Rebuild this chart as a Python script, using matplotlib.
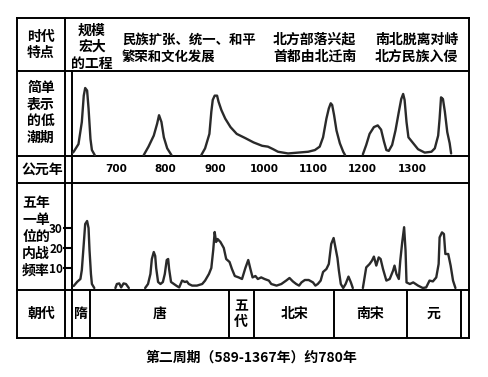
import matplotlib
matplotlib.use("Agg")
import matplotlib.pyplot as plt

plt.rcParams['font.family'] = ['Noto Sans CJK SC', 'DejaVu Sans']

# ---- data ----
# low-tide curve (arbitrary height 0-100), four separate strokes
low_years_1 = [580, 584, 594, 601, 605, 608, 612, 615, 619, 622, 628]
low_vals_1 = [3, 5, 14, 40, 71, 80, 77, 56, 20, 7, 1]
low_years_2 = [730, 740, 751, 758, 762, 767, 772, 779, 788]
low_vals_2 = [1, 11, 24, 38, 48, 40, 22, 9, 1]
low_years_3 = [850, 858, 867, 871, 874, 878, 883, 886, 892, 900, 911, 924, 942,
               959, 977, 989, 1000, 1010, 1031, 1052, 1073, 1087, 1097, 1104,
               1111, 1116, 1120, 1123, 1127, 1132, 1139, 1146, 1150]
low_vals_3 = [1, 9, 26, 52, 66, 71, 71, 64, 54, 44, 34, 26, 21,
              16, 12, 11, 8, 5, 3, 4, 5, 7, 11, 22,
              44, 56, 62, 60, 48, 30, 15, 5, 1]
low_years_4 = [1187, 1194, 1201, 1210, 1218, 1225, 1231, 1236, 1241, 1248, 1255,
               1262, 1267, 1271, 1274, 1278, 1282, 1292, 1302, 1316, 1330, 1337,
               1344, 1347, 1350, 1354, 1358, 1363, 1368, 1371]
low_vals_4 = [2, 13, 26, 34, 36, 31, 17, 7, 6, 13, 30,
              52, 67, 73, 66, 40, 22, 15, 8, 4, 5, 9,
              24, 44, 69, 67, 52, 28, 15, 3]

# civil war frequency per five-year unit
war_years_1 = [584, 591, 598, 601, 605, 608, 612, 615, 617, 620, 622, 627]
war_vals_1 = [1, 3, 4.5, 9, 22, 32, 33.5, 30, 19, 7, 2, 0]
war_years_2 = [671, 674, 679, 683, 688, 693, 699]
war_vals_2 = [0, 2, 2.3, 0.3, 2.3, 2, 0]
war_years_3 = [733, 739, 744, 747, 751, 754, 756, 760, 765, 770,
               774, 778, 781, 783, 787, 793, 799, 804, 810, 816,
               820, 824, 831, 841, 852, 858, 866, 871, 875, 878,
               881, 884, 890, 897, 902, 909, 914, 920, 928, 935,
               942, 948, 952, 957, 963, 968, 975, 982, 991, 996,
               1007, 1017, 1027, 1034, 1041, 1048, 1054, 1059, 1066, 1074,
               1083, 1088, 1093, 1099, 1104, 1111, 1116, 1121, 1126, 1130,
               1134, 1137, 1141, 1146, 1151, 1157, 1162, 1166]
war_vals_3 = [0, 2, 7, 14.5, 18, 16, 10, 3, 2, 3,
              7, 14, 14.5, 9.5, 3, 2, 1, 0.3, 3.7, 3,
              3.3, 2, 1.2, 1.2, 2, 3.7, 7, 10, 19, 28,
              23, 24.5, 23, 20, 14.5, 13, 9.5, 6, 5.3, 4.5,
              10, 14, 10, 5.3, 6, 4.5, 5.3, 4.5, 3.7, 2,
              1.2, 2, 3.7, 5, 3.3, 2, 1.2, 2.8, 4, 4,
              2.8, 1.2, 2, 3.7, 8, 9.5, 12, 22, 25, 20,
              15, 8.7, 2, 0, 2, 5.7, 2.8, 0]
war_years_4 = [1187, 1194, 1201, 1206, 1210, 1215, 1220, 1224, 1229, 1236,
               1243, 1250, 1253, 1257, 1262, 1265, 1269, 1273, 1276, 1278,
               1285, 1292, 1302, 1312, 1319, 1326, 1333, 1340, 1345, 1347,
               1352, 1356, 1359, 1365, 1370, 1375, 1380]
war_vals_4 = [0, 10.3, 12, 13.7, 15.7, 11.2, 15.3, 14.5, 9.5, 3.7,
              4.5, 8.7, 11.2, 7, 4.5, 13.7, 22.8, 30.4, 18.7, 2.8,
              2, 2.8, 1.2, 0, 0.3, 3.7, 3.3, 5.3, 12, 25.3,
              27.8, 27, 17, 17, 11.2, 3.7, 0]
war_ticks = [10, 20, 30]

year_labels = [700, 800, 900, 1000, 1100, 1200, 1300]

dynasties = ['隋', '唐', '五\n代', '北宋', '南宋', '元']
dynasty_edges = [581, 618, 907, 960, 1127, 1279, 1391]  # last edge as drawn

features = ['规模\n宏大\n的工程', '民族扩张、统一、和平\n繁荣和文化发展',
            '北方部落兴起\n首都由北迁南', '南北脱离对峙\n北方民族入侵']
row_titles = ['时代\n特点', '简单\n表示\n的低\n潮期', '公元年', '五年\n一单\n位的\n内战\n频率', '朝代']
caption = '第二周期（589-1367年）约780年'

# ---- layout (pixels) ----
W, H = 488, 377
fig = plt.figure(figsize=(W / 100, H / 100), dpi=100)
tab = fig.add_axes([0, 0, 1, 1])
tab.set_xlim(0, W)
tab.set_ylim(H, 0)
tab.axis('off')


def panel(x0, y0, x1, y1):
    ax = fig.add_axes([x0 / W, 1 - y1 / H, (x1 - x0) / W, (y1 - y0) / H])
    ax.patch.set_alpha(0)
    return ax


L, R = 17, 469
rows = [18, 71, 156, 183, 290, 338]
lw = 1.4
for y in rows:
    tab.plot([L, R], [y, y], color='black', lw=lw)
tab.plot([L, L], [18, 338], color='black', lw=lw)
tab.plot([R, R], [18, 338], color='black', lw=lw)
tab.plot([65, 65], [18, 338], color='black', lw=lw)
tab.plot([72, 72], [71, 338], color='black', lw=lw)

fs = 10
kw = dict(fontsize=fs, fontweight='bold', ha='center', va='center', linespacing=1.25)
title_x = [41, 41, 42, 36, 41]
title_y = [45, 113, 170, 237, 314]
for t, x, y in zip(row_titles, title_x, title_y):
    tab.text(x, y, t, **kw)

left_kw = dict(fontsize=fs, fontweight='bold', ha='left', va='center', linespacing=1.25)
tab.text(92, 47, features[0], **kw)
tab.text(122, 48, features[1], fontsize=9.6, fontweight='bold', ha='left', va='center',
         linespacing=1.3)
tab.text(273, 48, features[2], **left_kw)
tab.text(375, 48, features[3], **left_kw)
tab.text(251, 358, caption, fontsize=fs, fontweight='bold', ha='center', va='center')

xlim = (580.5, 1408.3)
curve_kw = dict(color='#2a2a2a', lw=1.7, solid_capstyle='round')

# low tide panel
ax1 = panel(72, 71, 469, 156)
ax1.set_xlim(*xlim)
ax1.set_ylim(0, 100)
ax1.axis('off')
for xs, ys in [(low_years_1, low_vals_1), (low_years_2, low_vals_2),
               (low_years_3, low_vals_3), (low_years_4, low_vals_4)]:
    ax1.plot(xs, ys, **curve_kw)

# year label row
ax2 = panel(72, 156, 469, 183)
ax2.set_xlim(609.9, 1416)
ax2.set_ylim(0, 1)
ax2.axis('off')
for yr in year_labels:
    ax2.text(yr, 0.5, str(yr), fontsize=7.5, fontweight='bold', ha='center', va='center',
             family='DejaVu Sans')

# war frequency panel
ax3 = panel(72, 183, 469, 290)
ax3.set_xlim(*xlim)
ax3.set_ylim(-1, 52.5)
for s in ax3.spines.values():
    s.set_visible(False)
ax3.set_xticks([])
ax3.set_yticks(war_ticks)
ax3.tick_params(axis='y', length=6.5, width=1.5, direction='out', pad=0, labelsize=8.5)
for lab in ax3.get_yticklabels():
    lab.set_fontweight('bold')
for xs, ys in [(war_years_1, war_vals_1), (war_years_2, war_vals_2),
               (war_years_3, war_vals_3), (war_years_4, war_vals_4)]:
    ax3.plot(xs, ys, **curve_kw)

# dynasty row
ax4 = panel(72, 290, 469, 338)
ax4.set_xlim(*xlim)
ax4.set_ylim(0, 1)
ax4.axis('off')
for e in dynasty_edges[1:]:
    ax4.axvline(e, color='black', lw=lw)
for i, name in enumerate(dynasties):
    mid = (dynasty_edges[i] + dynasty_edges[i + 1]) / 2
    ax4.text(mid, 0.5, name, fontsize=fs, fontweight='bold', ha='center', va='center',
             linespacing=1.15)

fig.savefig('out.png', dpi=100)
